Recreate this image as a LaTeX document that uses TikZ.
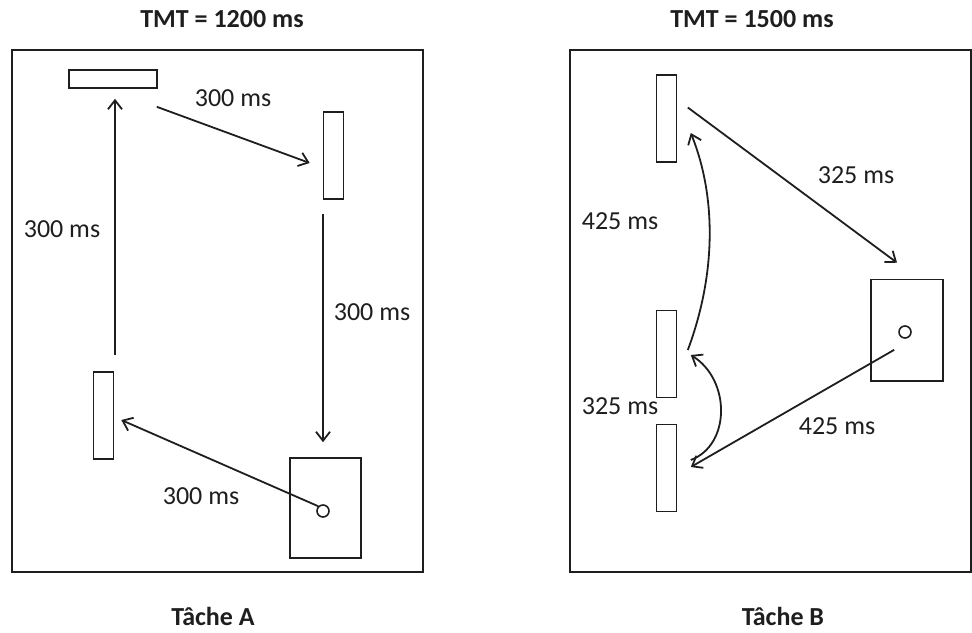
\documentclass[tikz,border=0pt]{standalone}
\usepackage{fontspec}
\setmainfont{Carlito}
\usetikzlibrary{arrows.meta}
\definecolor{ink}{RGB}{30,30,30}
\newcommand\tbar[3]{%
  \node[draw=ink,line width=0.8pt,inner sep=0,minimum width=10pt,minimum height=43.5pt] (#1) at (#2,#3) {};}

\begin{document}
\begin{tikzpicture}[x=0.5pt,y=-0.5pt,line width=0.9pt,>={Straight Barb[length=4.5pt,width=7pt]},
  lbl/.style={font=\fontsize{13}{15}\selectfont,text=ink,inner sep=0},
  ttl/.style={font=\fontsize{13}{15}\selectfont\bfseries,text=ink,inner sep=0}]
\useasboundingbox (0,0) rectangle (972,632);
\begin{scope}[shift={(0,0)}]
  \draw[ink,line width=1pt] (12,50) rectangle (423,572); % frame
  \node[ttl] (titleA) at (222,19) {TMT = 1200 ms};
  \node[draw=ink,line width=0.8pt,inner sep=0,minimum width=44pt,minimum height=9pt] (topA) at (113,79) {};
  \tbar{rightA}{333.5}{155.5}
  \tbar{leftA}{103.5}{415.5}
  \node[draw=ink,line width=0.8pt,inner sep=0,minimum width=35.5pt,minimum height=50pt] (goalA) at (325.5,508) {};
  \node[circle,draw=ink,line width=0.8pt,inner sep=0,minimum size=6pt] (dotA) at (323,511) {};
  % moves
  \draw[->,ink] ([shift={(-1,18)}]topA.south east) -- ([shift={(-13,7.5)}]rightA.west);
  \draw[->,ink] ([shift={(-10.5,14)}]rightA.south) -- ([shift={(-2.5,-15)}]goalA.north);
  \draw[->,ink] (dotA.north west) -- ([shift={(7,4.5)}]leftA.east);
  \draw[->,ink] ([shift={(11.5,-16)}]leftA.north) -- ([shift={(2,10)}]topA.south);
  \node[lbl] (tA1) at (233,98) {300 ms};
  \node[lbl] (tA2) at (372,312) {300 ms};
  \node[lbl] (tA3) at (201,496) {300 ms};
  \node[lbl] (tA4) at (62,229) {300 ms};
  \node[ttl] (nameA) at (213,616) {Tâche A};
\end{scope}
\begin{scope}[shift={(558,0)}]
  \draw[ink,line width=1pt] (12,50) rectangle (413,572); % frame
  \node[ttl] (titleB) at (194,19) {TMT = 1500 ms};
  \tbar{barB1}{108.5}{118.5}
  \tbar{barB2}{108.5}{354}
  \tbar{barB3}{108.5}{468}
  \node[draw=ink,line width=0.8pt,inner sep=0,minimum width=36pt,minimum height=50.75pt] (goalB) at (349,330.25) {};
  \node[circle,draw=ink,line width=0.8pt,inner sep=0,minimum size=6pt] (dotB) at (347,332) {};
  % moves
  \draw[->,ink] ([shift={(10.5,-11)}]barB1.east) -- ([shift={(-10,-16)}]goalB.north);
  \draw[->,ink] ([shift={(-6,13)}]dotB.south west) -- ([shift={(13.5,-1)}]barB3.east);
  \draw[->,ink] ([shift={(13.5,-8)}]barB3.east) .. controls +(40,-15) and +(40,25) .. ([shift={(13.5,1)}]barB2.east);
  \draw[->,ink] ([shift={(10.5,-4)}]barB2.east) .. controls +(28,-75) and +(26,65) .. ([shift={(13.5,14.5)}]barB1.east);
  \node[lbl] (tB1) at (298,175) {325 ms};
  \node[lbl] (tB2) at (62,221.5) {425 ms};
  \node[lbl] (tB3) at (62,406.5) {325 ms};
  \node[lbl] (tB4) at (279,426) {425 ms};
  \node[ttl] (nameB) at (225,616) {Tâche B};
\end{scope}
\end{tikzpicture}
\end{document}
